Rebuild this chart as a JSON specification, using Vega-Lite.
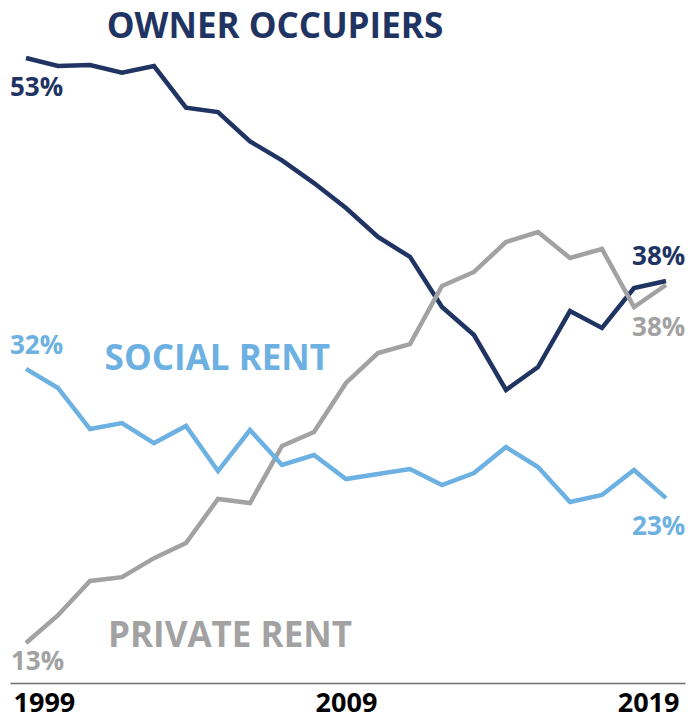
{
  "$schema": "https://vega.github.io/schema/vega-lite/v6.json",
  "autosize": "none",
  "width": 675,
  "height": 683,
  "padding": {"left": 10, "top": 0, "right": 3, "bottom": 37},
  "background": "white",
  "config": {"view": {"stroke": null}},
  "datasets": {
    "series": [
      {"year": 1999, "series": "Owner occupiers", "value": 53.0},
      {"year": 2000, "series": "Owner occupiers", "value": 52.45},
      {"year": 2001, "series": "Owner occupiers", "value": 52.52},
      {"year": 2002, "series": "Owner occupiers", "value": 52.0},
      {"year": 2003, "series": "Owner occupiers", "value": 52.45},
      {"year": 2004, "series": "Owner occupiers", "value": 49.6},
      {"year": 2005, "series": "Owner occupiers", "value": 49.3},
      {"year": 2006, "series": "Owner occupiers", "value": 47.3},
      {"year": 2007, "series": "Owner occupiers", "value": 46.0},
      {"year": 2008, "series": "Owner occupiers", "value": 44.45},
      {"year": 2009, "series": "Owner occupiers", "value": 42.74},
      {"year": 2010, "series": "Owner occupiers", "value": 40.76},
      {"year": 2011, "series": "Owner occupiers", "value": 39.4},
      {"year": 2012, "series": "Owner occupiers", "value": 35.97},
      {"year": 2013, "series": "Owner occupiers", "value": 34.06},
      {"year": 2014, "series": "Owner occupiers", "value": 30.3},
      {"year": 2015, "series": "Owner occupiers", "value": 31.87},
      {"year": 2016, "series": "Owner occupiers", "value": 35.7},
      {"year": 2017, "series": "Owner occupiers", "value": 34.54},
      {"year": 2018, "series": "Owner occupiers", "value": 37.27},
      {"year": 2019, "series": "Owner occupiers", "value": 37.75},
      {"year": 1999, "series": "Private rent", "value": 13.0},
      {"year": 2000, "series": "Private rent", "value": 14.9},
      {"year": 2001, "series": "Private rent", "value": 17.24},
      {"year": 2002, "series": "Private rent", "value": 17.5},
      {"year": 2003, "series": "Private rent", "value": 18.8},
      {"year": 2004, "series": "Private rent", "value": 19.84},
      {"year": 2005, "series": "Private rent", "value": 22.85},
      {"year": 2006, "series": "Private rent", "value": 22.57},
      {"year": 2007, "series": "Private rent", "value": 26.47},
      {"year": 2008, "series": "Private rent", "value": 27.43},
      {"year": 2009, "series": "Private rent", "value": 30.78},
      {"year": 2010, "series": "Private rent", "value": 32.83},
      {"year": 2011, "series": "Private rent", "value": 33.44},
      {"year": 2012, "series": "Private rent", "value": 37.41},
      {"year": 2013, "series": "Private rent", "value": 38.37},
      {"year": 2014, "series": "Private rent", "value": 40.42},
      {"year": 2015, "series": "Private rent", "value": 41.1},
      {"year": 2016, "series": "Private rent", "value": 39.33},
      {"year": 2017, "series": "Private rent", "value": 39.94},
      {"year": 2018, "series": "Private rent", "value": 35.97},
      {"year": 2019, "series": "Private rent", "value": 37.48},
      {"year": 1999, "series": "Social rent", "value": 31.74},
      {"year": 2000, "series": "Social rent", "value": 30.44},
      {"year": 2001, "series": "Social rent", "value": 27.63},
      {"year": 2002, "series": "Social rent", "value": 28.04},
      {"year": 2003, "series": "Social rent", "value": 26.67},
      {"year": 2004, "series": "Social rent", "value": 27.84},
      {"year": 2005, "series": "Social rent", "value": 24.76},
      {"year": 2006, "series": "Social rent", "value": 27.56},
      {"year": 2007, "series": "Social rent", "value": 25.17},
      {"year": 2008, "series": "Social rent", "value": 25.85},
      {"year": 2009, "series": "Social rent", "value": 24.21},
      {"year": 2010, "series": "Social rent", "value": 24.56},
      {"year": 2011, "series": "Social rent", "value": 24.9},
      {"year": 2012, "series": "Social rent", "value": 23.8},
      {"year": 2013, "series": "Social rent", "value": 24.62},
      {"year": 2014, "series": "Social rent", "value": 26.4},
      {"year": 2015, "series": "Social rent", "value": 25.03},
      {"year": 2016, "series": "Social rent", "value": 22.64},
      {"year": 2017, "series": "Social rent", "value": 23.12},
      {"year": 2018, "series": "Social rent", "value": 24.83},
      {"year": 2019, "series": "Social rent", "value": 22.91}
    ],
    "names": [
      {"year": 2006.78, "value": 55.1, "series": "Owner occupiers", "label": "OWNER OCCUPIERS"},
      {"year": 2004.98, "value": 32.42, "series": "Social rent", "label": "SOCIAL RENT"},
      {"year": 2005.375, "value": 13.48, "series": "Private rent", "label": "PRIVATE RENT"}
    ],
    "pcts": [
      {"year": 1999.33, "value": 50.915, "series": "Owner occupiers", "label": "53%"},
      {"year": 1999.33, "value": 33.31, "series": "Social rent", "label": "32%"},
      {"year": 1999.36, "value": 11.7, "series": "Private rent", "label": "13%"},
      {"year": 2018.77, "value": 39.41, "series": "Owner occupiers", "label": "38%"},
      {"year": 2018.77, "value": 34.55, "series": "Private rent", "label": "38%"},
      {"year": 2018.77, "value": 20.93, "series": "Social rent", "label": "23%"}
    ]
  },
  "encoding": {
    "x": {
      "field": "year",
      "type": "quantitative",
      "scale": {"domain": [1998.5, 2019.594], "nice": false, "zero": false},
      "axis": {
        "title": null,
        "values": [1999, 2009, 2019],
        "format": "d",
        "grid": false,
        "ticks": false,
        "tickSize": 0,
        "labelPadding": 7,
        "labelFont": "Open Sans",
        "labelFontWeight": "bold",
        "labelFontSize": 27,
        "labelColor": "#000000",
        "labelFlush": 20,
        "labelFlushOffset": 13,
        "domainColor": "#707070",
        "domainWidth": 1.5
      }
    },
    "y": {
      "field": "value",
      "type": "quantitative",
      "scale": {"domain": [10.265, 56.966], "nice": false, "zero": false},
      "axis": null
    },
    "color": {
      "field": "series",
      "type": "nominal",
      "scale": {
        "domain": ["Owner occupiers", "Social rent", "Private rent"],
        "range": ["#1f3462", "#6cb1e2", "#a2a2a2"]
      },
      "legend": null
    }
  },
  "layer": [
    {
      "data": {"name": "series"},
      "mark": {"type": "line", "strokeWidth": 4.5, "strokeJoin": "miter"},
      "encoding": {"detail": {"field": "series"}}
    },
    {
      "data": {"name": "names"},
      "mark": {"type": "text", "font": "Open Sans", "fontWeight": "bold", "fontSize": 35, "align": "center", "baseline": "middle"},
      "encoding": {"text": {"field": "label"}}
    },
    {
      "data": {"name": "pcts"},
      "mark": {"type": "text", "font": "Open Sans", "fontWeight": "bold", "fontSize": 26, "align": "center", "baseline": "middle"},
      "encoding": {"text": {"field": "label"}}
    }
  ]
}
